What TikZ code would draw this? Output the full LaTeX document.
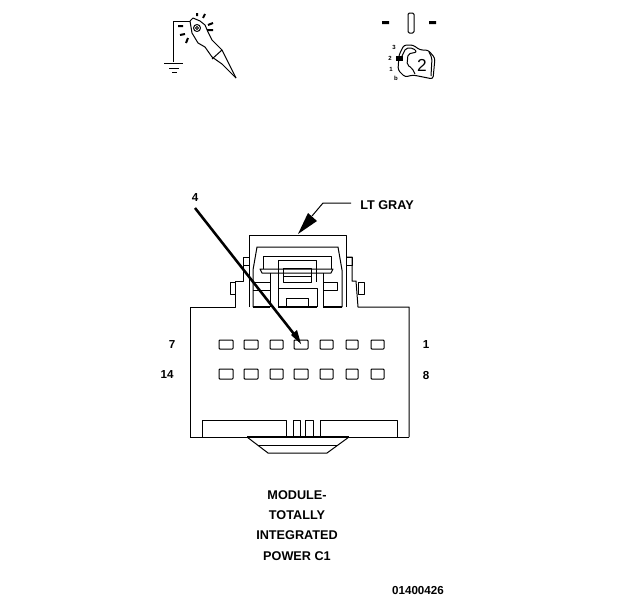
\documentclass[tikz,border=0pt]{standalone}
\usepackage{fontspec}
\setmainfont{Liberation Sans}
\tikzset{
 ln/.style={draw=black,line width=0.75pt,line join=round},
 thickln/.style={draw=black,line width=1.5pt},
 pin/.style={draw=black,line width=0.75pt,rounded corners=0.6pt},
 lbl/.style={font=\bfseries\fontsize{8.7pt}{10pt}\selectfont,inner sep=0pt,text=black},
 biglbl/.style={font=\bfseries\fontsize{9.5pt}{11pt}\selectfont,inner sep=0pt,text=black},
 tiny/.style={font=\bfseries\fontsize{4.5pt}{5pt}\selectfont,inner sep=0pt,text=black},
}
\begin{document}
\begin{tikzpicture}[x=0.75pt,y=-0.75pt]
\useasboundingbox[fill=white] (0,0) rectangle (624,600);
% probe icon
\draw[ln] (173,62) -- (173,21) -- (190,21);
\draw[ln] (164,63) -- (183,63) (169,68) -- (179,68) (172,72) -- (177,72);
\draw[ln] (190,21) -- (193,18) -- (200,21) -- (205,25) -- (208,32) -- (212,40) -- (222,50) -- (228,62) -- (236,78);
\draw[ln] (190,21) -- (192,33) -- (198,43) -- (205,47) -- (212,57) -- (222,64) -- (236,78);
\draw[ln] (222,50) -- (212,59);
\draw[ln] (197,28) circle (3.5) (197,28) circle (1.5);
\draw[thickln] (197,13) -- (197,16) (205,14) -- (203,18) (213,23) -- (208,25) (213,30) -- (207,30)
 (185,34) -- (180,35) (188,38) -- (186,43) (183,26) -- (178,26);
% meter icon
\fill (382,21) rectangle (389,24) (429,21) rectangle (436,24);
\draw[ln,rounded corners=1pt] (408,13) rectangle (414,33);
\draw[ln,rounded corners=2pt] (399,55) -- (404,45) -- (413,45) -- (420,50) -- (428,50) -- (435,58) -- (433,79) -- (413,75) -- (405,77) -- (398,70) -- cycle;
\draw[ln,rounded corners=1.5pt] (402,56) -- (406,48) -- (413,48) -- (417,52) -- (408,54) -- (407,65) -- (412,68) -- (415,74);
\draw[ln,rounded corners=1.5pt] (429,52) -- (432,58) -- (431,76);
\fill (396,56) rectangle (403,61);
\node[font=\fontsize{13pt}{14pt}\selectfont,inner sep=0pt] (two) at (422,65) {2};
\node[tiny] (n3) at (394,47) {3};
\node[tiny] (n2) at (390,58) {2};
\node[tiny] (n1) at (391,69) {1};
\node[tiny] (nb) at (396,78) {b};
% connector body
\draw[ln] (190,437) -- (190,307) -- (235,307) -- (235,281) -- (243,281) -- (243,257) -- (249,257);
\draw[ln] (409,437) -- (409,307) -- (358,307) -- (356,281) -- (352,281) -- (352,257) -- (346,257);
\draw[ln] (190,437) -- (247,437) (349,437) -- (409,437);
\draw[ln] (230,282) rectangle (235,294) (358,282) rectangle (364,294);
\draw[ln] (243,257) rectangle (249,265) (346,257) rectangle (352,265);
\draw[ln] (249,307) -- (249,235) -- (346,235) -- (346,307);
\draw[ln] (253,307) -- (253,270) -- (257,247) -- (338,247) -- (342,270) -- (342,307);
\draw[ln] (263,269) -- (263,256) -- (331,256) -- (331,269);
\draw[ln] (260,269) -- (333,269) -- (331,273) -- (262,273) -- cycle;
\draw[ln] (270,273) -- (270,307) (323,273) -- (323,307);
\draw[ln] (278,307) -- (278,260) -- (316,260) -- (316,282);
\draw[ln] (283,268) -- (311,268) -- (311,282) -- (283,282) -- cycle;
\draw[ln] (283,276) -- (311,276);
\draw[ln] (278,288) -- (317,288) -- (317,307);
\draw[ln] (286,307) -- (286,298) -- (308,298) -- (308,307);
\draw[ln] (253,282) -- (270,282) (253,290) -- (270,290);
\draw[ln] (323,282) -- (337,282) -- (337,290) -- (323,290);
\draw[thickln] (253,307) -- (270,307) (278,307) -- (317,307) (323,307) -- (342,307);
% pins
\foreach \x/\w in {219/14,244/14,270/13,294/14,320/13,346/12,371/13}{
 \draw[pin] (\x,340) rectangle +(\w,9);
 \draw[pin] (\x,369) rectangle +(\w,10);
}
% bottom
\draw[ln] (202,437) -- (202,420) -- (286,420) -- (286,437);
\draw[ln] (293,437) -- (293,420) -- (300,420) -- (300,437);
\draw[ln] (305,437) -- (305,420) -- (313,420) -- (313,437);
\draw[ln] (320,437) -- (320,420) -- (397,420) -- (397,437);
\draw[thickln] (247,437) -- (349,437);
\draw[ln] (247,437) -- (268,453) -- (327,453) -- (349,437);
\draw[ln] (258,445) -- (337,445);
% leaders
\coordinate (pinfour) at (301,344);
\node[lbl] (four) at (195,198) {4};
\coordinate (fourstart) at (195,208);
\draw[line width=1.9pt] (fourstart) -- (294,334);
\fill (291,335) -- (297,330) -- (pinfour) -- cycle;
\node[biglbl,anchor=west] (gray) at (360,205) {LT GRAY};
\coordinate (graybend) at (323,203);
\coordinate (graytip) at (298,234);
\draw[ln] (gray.west) ++(-9,-2) -- (graybend) -- (312,216);
\fill (graytip) -- (308,213) -- (317,221) -- cycle;
% labels
\node[lbl] (seven) at (172,345) {7};
\node[lbl] (fourteen) at (167,375) {14};
\node[lbl] (one) at (426,345) {1};
\node[lbl] (eight) at (426,375) {8};
\node[biglbl] (t1) at (297,495) {MODULE-};
\node[biglbl] (t2) at (297,515) {TOTALLY};
\node[biglbl] (t3) at (297,535) {INTEGRATED};
\node[biglbl] (t4) at (297,556) {POWER C1};
\node[lbl] (code) at (418,590) {01400426};
\end{tikzpicture}
\end{document}
